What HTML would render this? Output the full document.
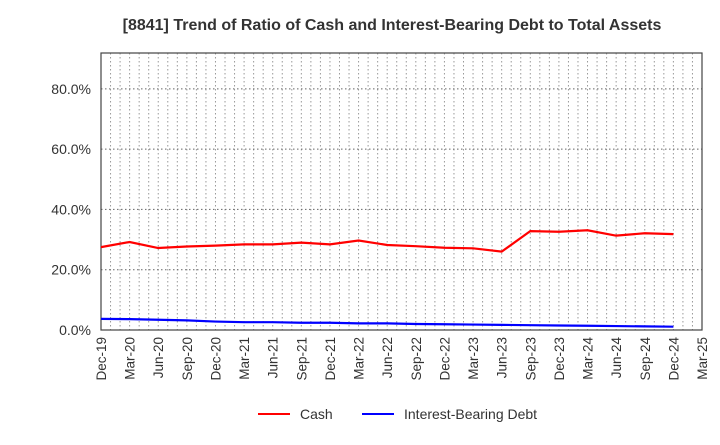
<!DOCTYPE html>
<html><head><meta charset="utf-8"><style>
body{margin:0;background:#fff;font-family:"Liberation Sans",sans-serif}
</style></head><body>
<svg id="c" width="720" height="440" xmlns="http://www.w3.org/2000/svg">
<text x="392" y="30" text-anchor="middle" font-size="16" font-weight="bold" fill="#333">[8841]  Trend of Ratio of Cash and Interest-Bearing Debt to Total Assets</text>
<g id="grid"></g><g id="axes"></g><g id="series"></g>
<g>
<line x1="258" y1="414" x2="290" y2="414" stroke="#f00" stroke-width="2"/>
<text x="300" y="419" font-size="14" fill="#333">Cash</text>
<line x1="362" y1="414" x2="394" y2="414" stroke="#00f" stroke-width="2"/>
<text x="404" y="419" font-size="14" fill="#333">Interest-Bearing Debt</text>
</g>
</svg>
<script>
const xLabels=["Dec-19","Mar-20","Jun-20","Sep-20","Dec-20","Mar-21","Jun-21","Sep-21","Dec-21","Mar-22","Jun-22","Sep-22","Dec-22","Mar-23","Jun-23","Sep-23","Dec-23","Mar-24","Jun-24","Sep-24","Dec-24","Mar-25"];
const cash=[27.5,29.2,27.2,27.7,28.0,28.4,28.4,29.0,28.4,29.7,28.2,27.8,27.3,27.1,26.0,32.8,32.6,33.1,31.3,32.1,31.8];
const debt=[3.7,3.6,3.4,3.2,2.8,2.6,2.6,2.4,2.4,2.2,2.2,2.0,1.9,1.8,1.7,1.6,1.5,1.4,1.3,1.2,1.1];
const yTicks=[0,20,40,60,80];
const L=101,R=702,T=53,B=330,yMax=91.9;
const NS="http://www.w3.org/2000/svg";
const qw=(R-L)/(xLabels.length-1);
const x=i=>L+i*qw, y=v=>B-v/yMax*(B-T);
function mk(p,t,a){const e=document.createElementNS(NS,t);for(const k in a)e.setAttribute(k,a[k]);document.getElementById(p).appendChild(e);return e;}
for(let m=1;m<(xLabels.length-1)*3;m++){const xx=L+m*qw/3;
const g=mk("grid","line",{x1:xx,x2:xx,y1:T,y2:B,stroke:"#999","stroke-dasharray":"1.5,2.5","stroke-width":1});

}
yTicks.forEach(v=>{if(v>0){const g=mk("grid","line",{x1:L,x2:R,y1:y(v),y2:y(v),stroke:"#666","stroke-dasharray":"1.5,2.5"});

}
const t=mk("axes","text",{x:L-10,y:y(v)+5,"text-anchor":"end","font-size":14,fill:"#333"});t.textContent=v.toFixed(1)+"%";

});
const fr=mk("axes","rect",{x:L,y:T,width:R-L,height:B-T,fill:"none",stroke:"#444","stroke-width":1.2});


xLabels.forEach((s,i)=>{const t=mk("axes","text",{transform:`translate(${x(i)+5},${B+7}) rotate(-90)`,"text-anchor":"end","font-size":13.5,fill:"#333"});t.textContent=s;

});
function line(d,c,n){const p=mk("series","polyline",{points:d.map((v,i)=>x(i)+","+y(v)).join(" "),fill:"none",stroke:c,"stroke-width":2.2});

}
line(cash,"#f00","cash-line");line(debt,"#00f","debt-line");
</script>
</body></html>
